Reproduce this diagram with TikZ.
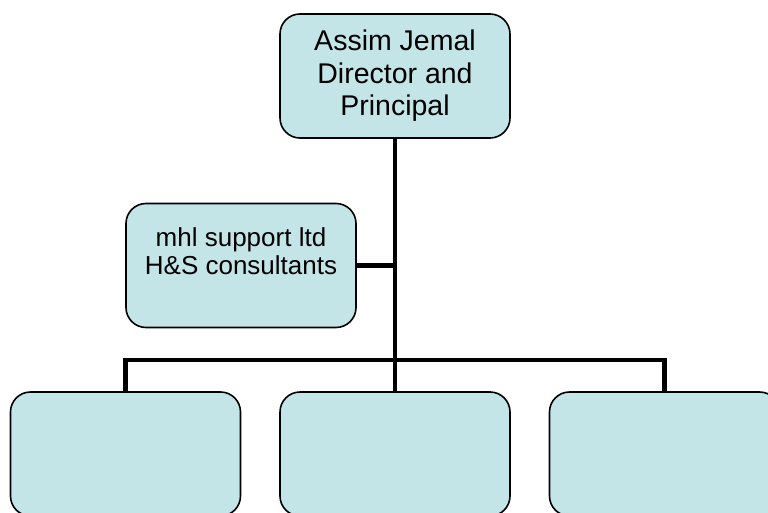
\documentclass[tikz,border=0pt]{standalone}
\usepackage{fontspec}
\setmainfont{Liberation Sans}
\definecolor{boxfill}{RGB}{196,229,232}

\begin{document}
\begin{tikzpicture}[x=1pt,y=-1pt,
orgbox/.style={draw=black,line width=1.6pt,fill=boxfill,rounded corners=20pt,
  minimum width=230pt,minimum height=124pt,align=center,inner sep=0pt},
orgline/.style={line width=4.5pt}]
\useasboundingbox (0,0) rectangle (768,513);
\clip (0,0) rectangle (768,513);
% boxes
\node[orgbox,font=\fontsize{28.5}{32.5}\selectfont] (director) at (395,76)
  {Assim Jemal\\Director and\\Principal};
\node[orgbox,font=\fontsize{26}{28.5}\selectfont] (support) at (241,265.5)
  {mhl support ltd\\H\&S consultants\\\mbox{}};
\node[orgbox] (unitA) at (125.5,454) {};
\node[orgbox] (unitB) at (395,454) {};
\node[orgbox] (unitC) at (664.5,454) {};
\coordinate (split) at (395,360);
% connectors
\draw[orgline] (director.south) -- (unitB.north);
\draw[orgline] (support.east) -- (support.east -| director.south);
\draw[orgline] (unitA.north) -- (unitA.north |- split) -- (unitC.north |- split) -- (unitC.north);
\end{tikzpicture}
\end{document}
